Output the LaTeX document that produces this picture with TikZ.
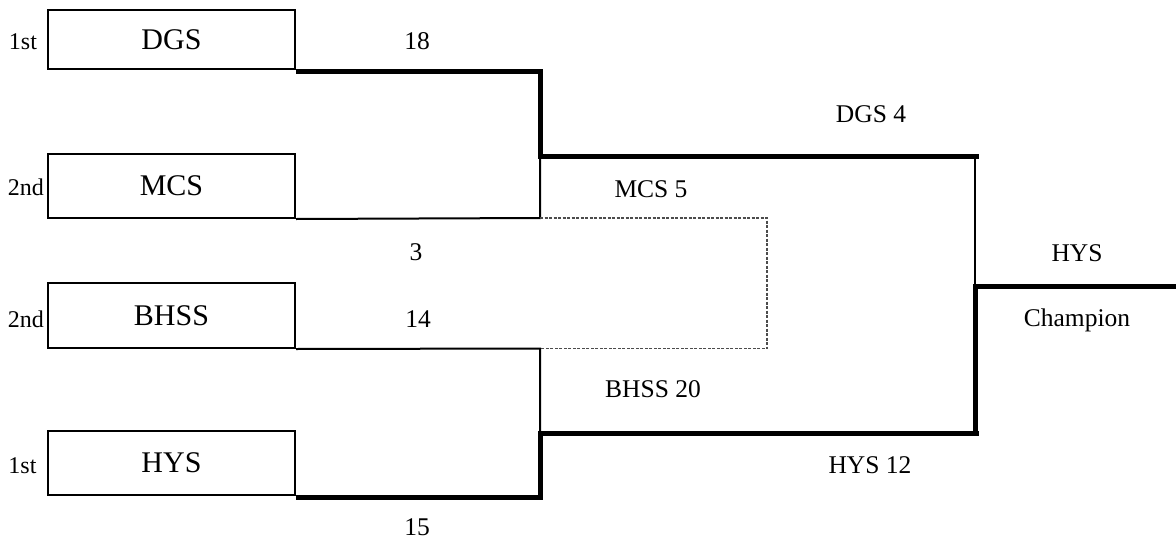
\documentclass[tikz,border=0pt]{standalone}
\usepackage{fontspec}
\setmainfont{Liberation Serif}
\begin{document}
\begin{tikzpicture}[x=1pt,y=-1pt,
  teambox/.style={draw, line width=2pt, minimum width=247pt, inner sep=0pt,
    font=\fontsize{30}{36}\selectfont},
  lbl/.style={anchor=base, inner sep=0pt, font=\fontsize{25.5}{30}\selectfont},
  rank/.style={anchor=base, inner sep=0pt, font=\fontsize{24}{28}\selectfont},
  thickline/.style={line width=5pt},
  thinline/.style={line width=2pt},
  dotline/.style={line width=1.5pt, draw=black!70, dash pattern=on 3pt off 1.5pt}]
\useasboundingbox (0,0) rectangle (1176,541);
% team boxes
\node[teambox, minimum height=59pt] (dgs) at (171.5,39.5) {DGS};
\node[teambox, minimum height=64pt] (mcs) at (171.5,186) {MCS};
\node[teambox, minimum height=65pt] (bhss) at (171.5,315.5) {BHSS};
\node[teambox, minimum height=64pt] (hys) at (171.5,463) {HYS};
% ranks
\node[rank] (r1) at (23,49) {1st};
\node[rank] (r2) at (26,195) {2nd};
\node[rank] (r3) at (26,327) {2nd};
\node[rank] (r4) at (22.5,473) {1st};
% junction coordinates
\coordinate (a1) at (540,71.5);
\coordinate (a2) at (540,156);
\coordinate (a3) at (979,156);
\coordinate (b1) at (540,218);
\coordinate (c1) at (540,348.5);
\coordinate (d1) at (540,497);
\coordinate (d2) at (540,433);
\coordinate (d3) at (979,433);
\coordinate (e1) at (975,156);
\coordinate (e2) at (975,286);
\coordinate (e3) at (1176,286);
\coordinate (e4) at (975,433);
\coordinate (f1) at (767,218);
\coordinate (f2) at (767,348.5);
% semifinal 1
\draw[thinline] (mcs.south east) -- (b1) -- (a2);
\draw[thickline] (dgs.south east |- a1) -- (a1) -- (a2) -- (a3);
% semifinal 2
\draw[thinline] (bhss.south east) -- (c1) -- (d2);
\draw[thickline] (hys.south east |- d1) -- (d1) -- (d2) -- (d3);
% third place (dotted)
\draw[dotline] (b1) -- (f1) -- (f2) -- (c1);
% final
\draw[thinline] (e1) -- (e2);
\draw[thickline] (e4) -- (e2) -- (e3);
% scores
\node[lbl] (s18) at (417,49) {18};
\node[lbl] (s3) at (416,260) {3};
\node[lbl] (s14) at (418,327) {14};
\node[lbl] (s15) at (417,535.5) {15};
\node[lbl] (sdgs) at (871,122) {DGS 4};
\node[lbl] (smcs) at (651,197) {MCS 5};
\node[lbl] (sbhss) at (653,397) {BHSS 20};
\node[lbl] (shys) at (870,473) {HYS 12};
\node[lbl] (champ1) at (1077,261) {HYS};
\node[lbl] (champ2) at (1077,326) {Champion};
\end{tikzpicture}
\end{document}
